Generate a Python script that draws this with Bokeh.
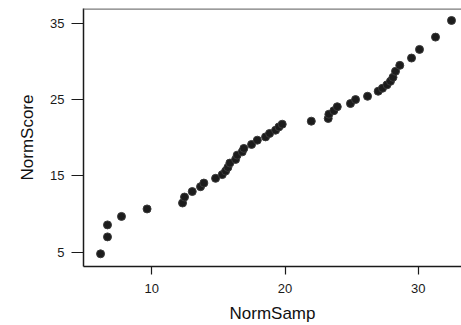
from bokeh.plotting import figure
from bokeh.models import Range1d, FixedTicker, Span
from bokeh.embed import file_html
from bokeh.resources import INLINE

norm_samp = [6.16, 6.68, 6.68, 7.73, 9.65, 12.31, 12.46, 13.04, 13.66, 13.91,
             14.79, 15.29, 15.54, 15.71, 15.86, 16.29, 16.41, 16.79, 16.91, 17.49,
             17.92, 18.54, 18.84, 19.29, 19.54, 19.79, 21.97, 23.24, 23.29, 23.66,
             23.92, 24.91, 25.29, 26.19, 26.99, 27.31, 27.65, 27.91, 28.10, 28.29,
             28.61, 29.49, 30.09, 31.29, 32.49]
norm_score = [4.78, 7.00, 8.57, 9.68, 10.66, 11.44, 12.22, 12.94, 13.57, 14.05,
              14.67, 15.16, 15.62, 16.10, 16.67, 17.15, 17.71, 18.14, 18.59, 19.11,
              19.67, 20.10, 20.55, 20.98, 21.41, 21.76, 22.16, 22.51, 23.07, 23.53,
              24.05, 24.47, 24.99, 25.42, 26.08, 26.47, 26.92, 27.38, 27.90, 28.69,
              29.47, 30.43, 31.56, 33.17, 35.35]
x_ticks = [10, 20, 30]
y_ticks = [5, 15, 25, 35]

y_top = 36.92
p = figure(width=461, height=325, output_backend="svg", toolbar_location=None,
           x_range=Range1d(4.88, 33.24), y_range=Range1d(3.12, y_top),
           min_border_left=83, min_border_right=0, min_border_top=8, min_border_bottom=58)

p.scatter(norm_samp, norm_score, size=8, fill_color="#1c1c1c", line_color="#3a3a3a", line_width=1)

p.xgrid.visible = False
p.ygrid.visible = False
p.outline_line_color = None
p.add_layout(Span(location=y_top, dimension="width", line_color="#7a7a7a", line_width=2.5))
p.background_fill_color = "white"
p.border_fill_color = "white"

for ax, ticks in ((p.xaxis[0], x_ticks), (p.yaxis[0], y_ticks)):
    ax.ticker = FixedTicker(ticks=ticks)
    ax.minor_tick_line_color = None
    ax.major_tick_in = 0
    ax.axis_line_color = "#1a1a1a"
    ax.axis_line_width = 1.5
    ax.major_tick_line_color = "#1a1a1a"
    ax.major_tick_line_width = 1.2
    ax.major_label_text_font = "Liberation Sans"
    ax.major_label_text_font_size = "13px"
    ax.major_label_text_color = "#1a1a1a"
    ax.axis_label_text_font = "Liberation Sans"
    ax.axis_label_text_font_size = "17px"
    ax.axis_label_text_font_style = "normal"
    ax.axis_label_text_color = "#111111"

p.xaxis.axis_label = "NormSamp"
p.yaxis.axis_label = "NormScore"
p.xaxis.major_tick_out = 8
p.xaxis.major_label_standoff = 9
p.xaxis.axis_label_standoff = 8
p.yaxis.major_tick_out = 12
p.yaxis.major_label_standoff = 7
p.yaxis.axis_label_standoff = 10
p.yaxis.major_label_orientation = "horizontal"

open("out.html", "w").write(file_html(p, INLINE))
